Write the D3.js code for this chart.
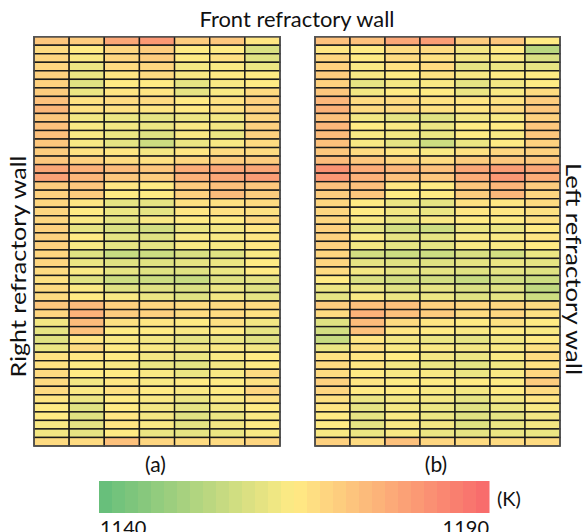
<!DOCTYPE html>
<html>
<head>
<meta charset="utf-8">
<script src="https://cdn.jsdelivr.net/npm/d3@7/dist/d3.min.js"></script>
<style>
  html, body { margin: 0; padding: 0; background: #fff; }
  svg { display: block; }
  text { font-family: Lato, "Open Sans", sans-serif; fill: #111; }
</style>
</head>
<body>
<svg id="chart" width="584" height="532"></svg>
<script>
// ---- data ----
const columns = [1, 2, 3, 4, 5, 6, 7];
const rows = d3.range(1, 49);
const panelLabels = ["(a)", "(b)"];
const colorTicks = [1140, 1190];
const colorDomain = [1140, 1165, 1190];
const colorRange = ["#63BE7B", "#FFEB84", "#F8696B"];

// Panel (a) temperatures (K), row by row from front wall, 7 columns each
const panelA = [
  [1172,1171,1178,1181,1171,1172,1166],
  [1168,1165,1169,1171,1165,1165,1159],
  [1169,1164,1169,1171,1165,1167,1160],
  [1169,1162,1168,1169,1163,1164,1162],
  [1170,1162,1166,1168,1164,1165,1165],
  [1170,1160,1165,1165,1161,1164,1165],
  [1171,1162,1166,1166,1161,1164,1168],
  [1173,1167,1168,1168,1165,1167,1170],
  [1175,1167,1167,1166,1165,1167,1170],
  [1172,1163,1162,1161,1162,1163,1169],
  [1173,1164,1163,1162,1164,1163,1170],
  [1173,1164,1162,1160,1164,1162,1170],
  [1172,1164,1161,1157,1162,1164,1168],
  [1171,1167,1166,1163,1166,1168,1168],
  [1172,1170,1168,1167,1169,1171,1171],
  [1178,1176,1174,1172,1177,1178,1178],
  [1179,1175,1172,1171,1176,1178,1180],
  [1171,1172,1166,1165,1171,1173,1172],
  [1170,1171,1165,1165,1170,1174,1171],
  [1169,1166,1161,1161,1167,1167,1168],
  [1169,1165,1162,1161,1166,1167,1167],
  [1169,1164,1161,1164,1165,1165,1168],
  [1170,1161,1159,1158,1162,1163,1166],
  [1170,1165,1161,1160,1164,1164,1166],
  [1170,1164,1161,1161,1164,1164,1166],
  [1169,1160,1156,1157,1159,1160,1164],
  [1169,1162,1160,1160,1161,1162,1165],
  [1168,1164,1161,1160,1160,1162,1165],
  [1167,1160,1157,1157,1156,1160,1161],
  [1168,1164,1160,1160,1159,1162,1160],
  [1168,1165,1164,1162,1160,1163,1161],
  [1172,1174,1170,1169,1168,1168,1168],
  [1169,1176,1171,1170,1168,1168,1167],
  [1163,1174,1167,1166,1165,1167,1163],
  [1161,1173,1165,1165,1164,1165,1161],
  [1160,1166,1164,1163,1161,1162,1160],
  [1162,1168,1165,1164,1163,1164,1163],
  [1167,1166,1165,1163,1162,1164,1165],
  [1167,1165,1164,1162,1161,1163,1165],
  [1168,1165,1165,1164,1162,1164,1168],
  [1168,1163,1166,1164,1165,1165,1167],
  [1168,1164,1167,1165,1164,1165,1169],
  [1166,1162,1165,1164,1162,1164,1167],
  [1165,1160,1165,1163,1161,1163,1165],
  [1165,1160,1166,1163,1160,1162,1164],
  [1164,1161,1166,1164,1161,1163,1165],
  [1163,1161,1165,1162,1161,1162,1164],
  [1168,1168,1173,1169,1168,1168,1169]
];

// Panel (b) temperatures (K)
const panelB = [
  [1173,1173,1178,1180,1171,1172,1165],
  [1166,1165,1168,1168,1163,1165,1154],
  [1169,1165,1168,1167,1163,1164,1159],
  [1170,1164,1167,1168,1161,1162,1161],
  [1171,1164,1165,1167,1164,1165,1165],
  [1170,1161,1163,1164,1161,1163,1165],
  [1172,1163,1165,1165,1162,1164,1168],
  [1175,1168,1168,1167,1166,1167,1171],
  [1176,1168,1168,1167,1166,1168,1172],
  [1173,1163,1161,1160,1163,1164,1170],
  [1175,1165,1164,1162,1165,1165,1172],
  [1174,1164,1163,1162,1165,1164,1172],
  [1173,1164,1161,1157,1162,1165,1170],
  [1172,1168,1166,1164,1167,1169,1170],
  [1174,1172,1169,1168,1171,1172,1172],
  [1182,1177,1175,1173,1178,1180,1178],
  [1181,1176,1173,1172,1177,1181,1177],
  [1173,1173,1166,1165,1172,1175,1171],
  [1171,1172,1165,1165,1171,1175,1169],
  [1169,1165,1162,1161,1167,1166,1168],
  [1169,1165,1163,1162,1166,1166,1167],
  [1169,1164,1162,1164,1165,1165,1167],
  [1170,1161,1158,1157,1162,1162,1165],
  [1170,1164,1161,1161,1164,1164,1166],
  [1170,1163,1161,1161,1164,1164,1165],
  [1169,1158,1157,1157,1159,1158,1162],
  [1169,1161,1160,1160,1161,1162,1161],
  [1168,1163,1161,1161,1160,1161,1160],
  [1165,1159,1158,1158,1156,1158,1157],
  [1162,1162,1160,1161,1159,1160,1155],
  [1161,1164,1162,1162,1160,1161,1157],
  [1171,1173,1173,1170,1169,1169,1168],
  [1168,1176,1173,1171,1168,1169,1167],
  [1160,1174,1168,1166,1165,1167,1165],
  [1158,1173,1166,1165,1164,1165,1164],
  [1156,1166,1163,1162,1161,1163,1165],
  [1162,1167,1164,1164,1163,1164,1167],
  [1167,1166,1165,1163,1162,1164,1168],
  [1168,1166,1163,1162,1161,1163,1167],
  [1168,1165,1164,1164,1162,1164,1169],
  [1170,1166,1165,1165,1165,1165,1171],
  [1169,1165,1165,1164,1163,1165,1168],
  [1167,1162,1163,1163,1161,1163,1166],
  [1166,1161,1163,1162,1160,1162,1164],
  [1165,1161,1164,1162,1160,1161,1163],
  [1165,1161,1164,1163,1160,1162,1163],
  [1164,1162,1164,1162,1161,1162,1162],
  [1170,1168,1173,1169,1168,1168,1168]
];

// ---- drawing ----
const svg = d3.select("#chart");
const color = d3.scaleLinear().domain(colorDomain).range(colorRange).clamp(true);

const yScale = d3.scaleBand().domain(rows).range([36.7, 446]);
const panels = [
  { data: panelA, x: d3.scaleBand().domain(columns).range([34, 280]), label: panelLabels[0] },
  { data: panelB, x: d3.scaleBand().domain(columns).range([315, 560]), label: panelLabels[1] }
];

panels.forEach(p => {
  const g = svg.append("g");
  const cells = [];
  p.data.forEach((row, ri) => row.forEach((v, ci) => cells.push({ r: rows[ri], c: columns[ci], v })));
  g.selectAll("rect.cell").data(cells).enter().append("rect")
    .attr("class", "cell")
    .attr("x", d => p.x(d.c))
    .attr("y", d => yScale(d.r))
    .attr("width", p.x.bandwidth())
    .attr("height", yScale.bandwidth())
    .attr("fill", d => color(d.v))
    .attr("stroke", "#1a1a1a")
    .attr("stroke-width", 1.4);
  g.append("rect")
    .attr("x", p.x.range()[0]).attr("y", yScale.range()[0])
    .attr("width", p.x.range()[1] - p.x.range()[0])
    .attr("height", yScale.range()[1] - yScale.range()[0])
    .attr("fill", "none").attr("stroke", "#555").attr("stroke-width", 1.4);
  svg.append("text")
    .attr("x", (p.x.range()[0] + p.x.range()[1]) / 2 - 1.5)
    .attr("y", 472)
    .attr("text-anchor", "middle")
    .attr("font-size", 21)
    .text(p.label);
});

// Titles
svg.append("text").attr("x", 297).attr("y", 27).attr("text-anchor", "middle")
  .attr("font-size", 22).attr("textLength", 195).attr("lengthAdjust", "spacingAndGlyphs")
  .text("Front refractory wall");
svg.append("text").attr("transform", "translate(26,266.5) rotate(-90)")
  .attr("text-anchor", "middle").attr("font-size", 22)
  .attr("textLength", 222).attr("lengthAdjust", "spacingAndGlyphs")
  .text("Right refractory wall");
svg.append("text").attr("transform", "translate(566,269) rotate(90)")
  .attr("text-anchor", "middle").attr("font-size", 22)
  .attr("textLength", 212).attr("lengthAdjust", "spacingAndGlyphs")
  .text("Left refractory wall");

// Colour bar (stepped)
const nSteps = 30;
const cbX = d3.scaleLinear().domain([colorTicks[0], colorTicks[1]]).range([99, 489]);
const stepW = (colorTicks[1] - colorTicks[0]) / nSteps;
const steps = d3.range(nSteps).map(i => colorTicks[0] + i * stepW);
svg.append("g").selectAll("rect").data(steps).enter().append("rect")
  .attr("x", d => cbX(d))
  .attr("y", 481)
  .attr("width", cbX(colorTicks[0] + stepW) - cbX(colorTicks[0]) + 0.5)
  .attr("height", 32)
  .attr("fill", d => color(d + stepW / 2));
svg.append("text").attr("x", 497).attr("y", 506).attr("font-size", 20).text("(K)");
svg.append("text").attr("x", cbX(colorTicks[0]) + 1).attr("y", 535).attr("font-size", 20).text(colorTicks[0]);
svg.append("text").attr("x", cbX(colorTicks[1])).attr("y", 535).attr("text-anchor", "end").attr("font-size", 20).text(colorTicks[1]);
</script>
</body>
</html>
